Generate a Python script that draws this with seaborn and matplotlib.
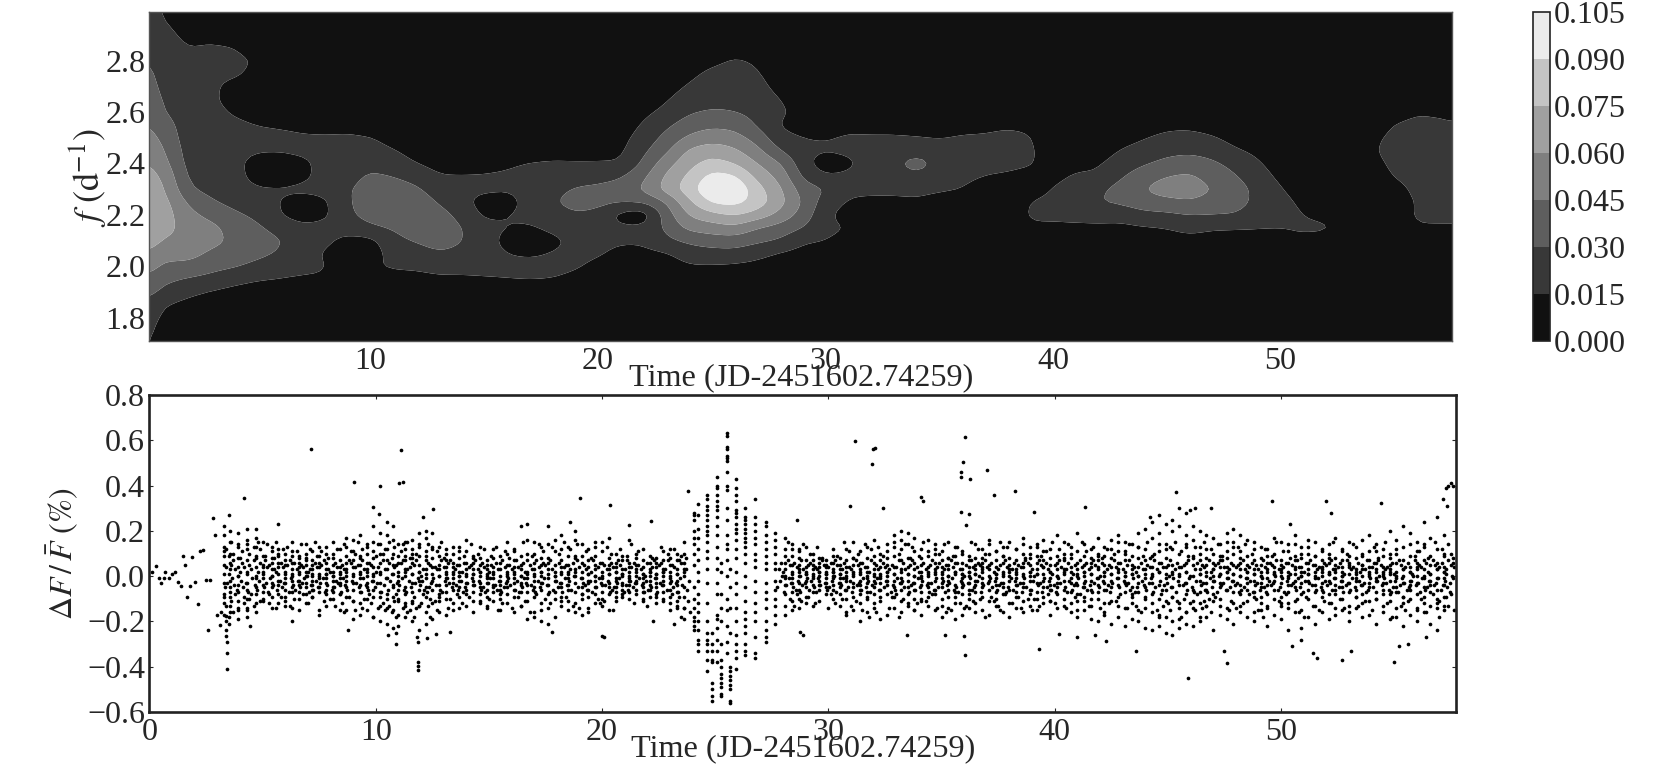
"""
Lomb-Scargle map and light curve, JD-2451602.74259
Values estimated by eye from the picture; the dense band is a thinned read-off.
"""
import numpy as np
import pandas as pd
import matplotlib
matplotlib.use('Agg')
import matplotlib.pyplot as plt
import seaborn as sns

# ----- power map: one list per time, f from 3.00 down to 1.70 in steps of 0.05
# unit of the lists is 0.0015 (contour levels fall on multiples of 10)
map_f = [3.00, 2.95, 2.90, 2.85, 2.80, 2.75, 2.70, 2.65, 2.60, 2.55, 2.50, 2.45, 2.40, 2.35,
         2.30, 2.25, 2.20, 2.15, 2.10, 2.05, 2.00, 1.95, 1.90, 1.85, 1.80, 1.75, 1.70]
map_t = [0.27, 1, 2, 3, 4, 5, 6, 7, 8, 9, 10, 11, 12, 13, 14, 15, 16, 17, 18, 19, 20, 21, 22, 23, 24, 25,
         26, 27, 28, 29, 30, 31, 32, 33, 34, 35, 36, 37, 38, 39, 40, 41, 42, 43, 44, 45, 46, 47, 48, 49,
         50, 51, 52, 53, 54, 55, 56, 57, 57.6]
map_power = [
    [14,15,16,18,20,22,24,26,28, 30,33,36,40,44,47,48,48,47, 44,39,33,28,22,18,14,12,11],
    [8,10,12,13,14,15,16,18,20, 24,27,30,33,37,40,43,44,43, 39,33,28,22,17,10,7,5,3],
    [3,6,8,10,11,12,12,13,13, 14,14,15,16,18,21,28,33,36, 37,34,27,19,12,7,4,2,1],
    [3,5,8,11,12,12,12,12,13, 13,13,14,14,15,17,21,27,33, 33,28,23,17,9,6,3,2,1],
    [2,3,5,10.5,13,12,7,6,9, 12,13,13,13,14,15,17,22,26, 28,26,21,13,7,4,2,1,1],
    [1,1,1,4,9,7,5,5,6, 10,12,11,6,6,11,13,18,22, 25,23,17,10.5,6,3,2,1,1],
    [1,1,1,1,2,2,3,4,5, 9,12,11,5,5,11,10,10,16, 21,19,13,10,5,3,2,1,1],
    [1,1,1,1,1,2,2,3,5, 8,11,12,8,8,12,6,6,12, 14,14,12,9,5,3,2,1,1],
    [1,1,1,1,1,1,2,3,4, 7,11,12,13,13,13,8,8,13, 12,9,10.5,9,5,3,2,1,1],
    [1,1,1,1,1,1,2,3,5, 8,11,13,15,16,19,19,18,14, 7,5,6,4,3,2,1,1,1],
    [1,1,1,1,1,1,2,2,4, 6,10.5,13,17,22,25,26,24,18, 7,5,9,6,3,2,1,1,1],
    [1,1,1,1,1,1,1,2,3, 5,7,10.5,14,20,25,28,28,21, 17,14,11,7,3,2,1,1,1],
    [1,1,1,1,1,1,1,1,2, 4,5,7,10,16,22,27,28,26, 21,15,11,8,4,2,1,1,1],
    [1,1,1,1,1,1,1,1,1, 3,4,5,7,10.5,14,19,24,26, 25,19,12,9,4,2,1,1,1],
    [1,1,1,1,1,1,1,1,1, 2,4,5,7,10.5,12,13,17,20.5, 20.5,17,12,9,4,2,1,1,1],
    [1,1,1,1,1,1,1,1,1, 3,4,6,8,10.5,12,6,8,13, 14,14,12,9.5,4,2,1,1,1],
    [1,1,1,1,1,1,1,1,1, 3,4,6,9,11,11,6,10,10, 7,10,12,10,5,2,1,1,1],
    [1,1,1,1,1,1,1,1,2, 3,4,6,10.5,12,13,14,12,9, 5,9,12,10.5,5,2,1,1,1],
    [1,1,1,1,1,1,1,1,2, 3,5,7,11,13,17,19,15,12, 8,10.5,12,10,5,2,1,1,1],
    [1,1,1,1,1,1,1,1,2, 3,5,7,10.5,16,21,24,19,14, 12,12,11,8,4,2,1,1,1],
    [1,1,1,1,1,1,1,1,2, 3,5,7,10.5,17,22,23,17,13, 12,11,8,5,3,1,1,1,1],
    [1,1,1,1,1,1,1,1,2, 5,7,8,10.5,19,24,21,6,12, 11,8,5,3,2,1,1,1,1],
    [1,1,1,1,1,2,4,6,8, 11,14,18,22,28,32,21,3,12, 11,8,5,3,2,1,1,1,1],
    [1,1,1,2,3,4,6,9,12, 18,23,28,36,42,44,30,25,22, 18,9,5,3,2,1,1,1,1],
    [1,1,2,3,5,8,11,15,19, 25,32,42,47,52,56,48,41,33, 22,15,9,5,3,2,1,1,1],
    [1,2,3,4,8,12,14,17,21, 28,36,46,54,64,70,62,47,35, 25,16,9,5,3,2,1,1,1],
    [1,2,4,7,11,13,15,17,20, 27,34,42,50,62,70,64,51,38, 25,17,8,5,3,2,1,1,1],
    [1,2,4,6,9,11,13,15,17, 19,26,33,40,47,54,56,46,30, 22,13,7,4,2,1,1,1,1],
    [1,1,2,3,4,5,7,10,12, 9,13,20,31,37,42,44,37,26, 19,9,5,3,2,1,1,1,1],
    [1,1,1,1,2,3,4,5,6, 6,10,12,14,18,25,29,26,20, 11,7,4,2,1,1,1,1,1],
    [1,1,1,1,1,2,3,4,5, 6,9.5,11,4,11,20.5,15,12,12, 10,6,3,2,1,1,1,1,1],
    [1,1,1,1,1,2,3,4,5, 8,11,12,8,12,12,9,6,10, 7,4,2,1,1,1,1,1,1],
    [1,1,1,1,1,1,2,3,4, 7,11,13,14,14,12,8,5,3, 2,1,1,1,1,1,1,1,1],
    [1,1,1,1,1,1,2,3,4, 7,11,14,17,15,12,8,5,3, 2,1,1,1,1,1,1,1,1],
    [1,1,1,1,1,1,2,3,4, 6,10.5,15,26,17,12,9,5,3, 2,1,1,1,1,1,1,1,1],
    [1,1,1,1,1,1,2,3,4, 6,9.5,14,16,14,11,7,4,2, 1,1,1,1,1,1,1,1,1],
    [1,1,1,1,1,1,2,3,4, 7,11,13,14,12,10,6,3,2, 1,1,1,1,1,1,1,1,1],
    [1,1,1,1,1,1,2,3,5, 8,11,13,12,10,6,4,2,1, 1,1,1,1,1,1,1,1,1],
    [1,1,1,1,1,1,2,3,5, 9,12,13,12,9,5,3,2,1, 1,1,1,1,1,1,1,1,1],
    [1,1,1,1,1,1,2,3,5, 8,11,12,11,7,6,10.5,12,8, 5,3,2,1,1,1,1,1,1],
    [1,1,1,1,1,1,1,1,1, 2,3,4,6,8,10.5,12,12,8, 5,3,2,1,1,1,1,1,1],
    [1,1,1,1,1,1,1,1,1, 2,3,5,8,11,13,14,13,8, 5,3,2,1,1,1,1,1,1],
    [1,1,1,1,1,1,1,1,1, 2,4,6,9,11,18,20,13,8.5, 5,3,2,1,1,1,1,1,1],
    [1,1,1,1,1,1,2,3,4, 5,7,10.5,14,19,24,22,13,8, 5,3,2,1,1,1,1,1,1],
    [1,1,1,1,1,1,2,3,4, 6,9.5,13,19,26,30,26,17,9, 5,3,2,1,1,1,1,1,1],
    [1,1,1,1,1,1,2,3,5, 8,12,17,23,30,35,27,18,10, 6,3,2,1,1,1,1,1,1],
    [1,1,1,1,1,1,2,3,5, 8,13,18,25,32,36,29,20,13, 7,4,2,1,1,1,1,1,1],
    [1,1,1,1,1,1,2,3,4, 6,11,16,22,26,30,26,20,11, 6,3,2,1,1,1,1,1,1],
    [1,1,1,1,1,1,2,3,3, 4,7,11,17,21,25,25,19.5,10.5, 6,3,2,1,1,1,1,1,1],
    [1,1,1,1,1,1,1,2,2, 3,5,8,11,14,17,17,14,10.5, 6,3,2,1,1,1,1,1,1],
    [1,1,1,1,1,1,1,1,1, 1,2,4,6,8,10.5,13,14,10, 6,3,2,1,1,1,1,1,1],
    [1,1,1,1,1,1,1,1,1, 1,1,2,4,5,6,8,10,12, 7,3,2,1,1,1,1,1,1],
    [1,1,1,1,1,1,1,1,1, 1,1,1,2,3,4,5,7,12, 5,3,2,1,1,1,1,1,1],
    [1,1,1,1,1,1,1,1,1, 1,1,1,2,3,3,4,5,5, 3,2,1,1,1,1,1,1,1],
    [1,1,1,1,1,1,1,2,3, 5,8,9,7,5,4,4,4,4, 3,2,1,1,1,1,1,1,1],
    [1,1,1,1,1,1,2,4,6, 10.5,12,13,12,10.5,7,5,6,5, 3,2,1,1,1,1,1,1,1],
    [1,1,1,1,1,2,3,5,9.5, 12,14,15,14,13,12,11,11,9.5, 5,3,2,1,1,1,1,1,1],
    [1,1,1,1,1,2,3,5,9, 11,14,15,15,14,13,12,12,9, 5,3,2,1,1,1,1,1,1],
    [1,1,1,1,1,2,3,5,8.5, 10.5,14,15,15,14,13,12,12,9, 5,3,2,1,1,1,1,1,1],
]
map_levels = [0.0, 0.015, 0.03, 0.045, 0.06, 0.075, 0.09, 0.105]
map_colors = ['#111111', '#383838', '#5e5e5e', '#7f7f7f', '#a0a0a0', '#c4c4c4', '#ebebeb']
map_xticks = [10, 20, 30, 40, 50]
map_yticks = [1.8, 2.0, 2.2, 2.4, 2.6, 2.8]

# ----- light curve: isolated points, read one by one
early_t = [0.13, 0.28, 0.44, 0.52, 0.65, 0.71, 0.87, 0.99, 1.15, 1.26, 1.39, 1.5, 1.59, 1.67, 1.81, 1.9, 2.02,
           2.13, 2.25, 2.36, 2.49, 2.57, 2.68, 2.8, 2.91, 2.98, 3.12, 3.15]
early_flux = [0.02, 0.045, -0.01, -0.03, -0.01, 0.02, -0.01, 0.01, 0.02, -0.025, -0.045, 0.09, 0.05, -0.09,
              -0.045, 0.085, -0.025, -0.125, 0.11, 0.115, -0.015, -0.24, -0.015, 0.255, 0.18, -0.17, -0.215, -0.16]
single_t = [3.28, 3.39, 3.39, 3.51, 3.51, 3.4, 3.4, 3.43, 3.45, 3.45, 4.19, 4.46, 5.69, 6.31, 7.12, 9.06, 10.2,
            11.12, 11.04, 11.2, 9.86, 10.13, 8.79, 10.88, 10.54, 10.88, 11.86, 11.86, 11.86, 11.86, 11.83, 12.1,
            12.52, 12.25, 12.68, 13.3, 17.8, 19.02, 20.33, 20.08, 20.0, 22.26, 23.2, 23.8, 22.15, 21.2, 18.58,
            28.73, 28.9, 28.6, 31.16, 31.96, 32.04, 31.93, 30.95, 32.4, 34.1, 34.18, 36.02, 35.96, 35.88, 35.86,
            36.27, 37.03, 37.3, 38.25, 39.1, 35.88, 36.23, 36.1, 36.05, 35.98, 39.3, 41.36, 40.17, 41.0, 41.8,
            42.27, 35.14, 33.48, 43.6, 45.35, 46.0, 46.2, 45.9, 44.2, 46.9, 47.5, 47.6, 49.6, 50.4, 50.5, 50.9,
            51.4, 51.6, 52.0, 52.2, 52.7, 53.1, 54.4, 55.0, 55.2, 55.6, 56.4, 57.15, 57.3, 57.35, 57.4, 57.5, 57.6]
single_flux = [0.22, -0.175, -0.2, -0.21, 0.27, -0.24, -0.265, -0.29, -0.34, -0.41, 0.345, -0.22, 0.23, -0.2,
               0.56, 0.415, 0.4, 0.555, 0.41, 0.415, 0.305, 0.275, -0.24, -0.3, -0.26, -0.25, -0.38, -0.395, -0.415,
               -0.29, -0.27, 0.26, 0.295, -0.275, -0.255, -0.245, -0.245, 0.345, 0.315, -0.27, -0.265, -0.2, -0.21,
               0.375, 0.245, 0.225, 0.24, -0.245, -0.26, 0.25, 0.595, 0.56, 0.565, 0.495, 0.31, 0.3, 0.35, 0.33,
               0.615, 0.505, 0.46, 0.44, 0.43, 0.47, 0.36, 0.375, 0.285, 0.285, 0.275, 0.225, -0.35, -0.265, -0.32,
               0.305, -0.255, -0.27, -0.26, -0.285, -0.26, -0.26, -0.33, 0.37, 0.29, 0.3, -0.45, 0.26, 0.3, -0.33,
               -0.385, 0.33, 0.23, -0.31, -0.28, -0.34, -0.36, 0.33, 0.28, -0.37, -0.33, 0.325, -0.38, -0.31, -0.3,
               -0.27, 0.34, 0.39, 0.31, 0.4, 0.41, 0.4]

# ----- flare around t = 24-28, flux in units of 0.01 %
flare_t = [24.07, 24.25, 24.63, 24.85, 25.07, 25.25, 25.5, 25.65, 25.9, 26.33, 26.76, 27.23, 27.66]
flare_flux = [
    [28,25,20,27,17,14,10,5,-5,-10,-14,-18,-20,-22,-24],
    [32,27,21,17,12,7,2,-2,-8,-12,-16,-20,-24,-28,-30,-33],
    [36,34,31,29,27,25,22,20,18,15,11,8,3,-3,-12,-20,-25,-28,-30,-33,-37,-42],
    [-25,-30,-33,-37,-38,-47,-50,-53,-55],
    [44,40,39,36,33,31,29,26,22,18,13,8,3,-3,-8,-17,-19,-23,-28,-33,-38],
    [-40,-43,-45,-47,-49,-52,-53,-37,-30,-20,-14,-8,2,6],
    [63,62,57,56,53,52,51,46,40,38,30,25,18,14,12,7,0,-10,-15,-22,-29,-34],
    [-40,-42,-44,-46,-48,-50,-55,-56,-25,-14,-5,3],
    [43,39,36,33,29,28,26,23,21,19,16,12,8,2,-3,-8,-14,-20,-26,-30,-33,-36,-41],
    [30,26,25,23,21,19,17,15,13,10,6,0,-5,-11,-16,-19,-22,-25,-30,-33,-35],
    [34,26,23,20,17,14,10,7,4,-2,-7,-12,-16,-20,-27,-34,-36],
    [24,22,18,15,12,9,6,3,-3,-7,-10,-14,-20,-24,-27,-29],
    [19,16,13,10,6,3,-2,-6,-10,-13,-17,-21],
]

# ----- dense band, stripes, flux in units of 0.01 %
band_t = [3.3, 3.55, 3.9, 4.3, 4.7, 5.0, 5.4, 5.7, 6.0, 6.3, 6.6, 6.9, 7.2, 7.5, 7.8, 8.1, 8.4, 8.7, 9.0, 9.3,
          9.6, 9.9, 10.2, 10.5, 10.75, 11.0, 11.3, 11.6, 11.9, 12.2, 12.5, 12.8, 13.1, 13.4, 13.7, 14.0, 14.3,
          14.6, 14.9, 15.2, 15.5, 15.8, 16.1, 16.4, 16.7, 17.0, 17.3, 17.6, 17.9, 18.2, 18.5, 18.8, 19.1, 19.4,
          19.7, 20.0, 20.3, 20.6, 20.9, 21.2, 21.5, 21.8, 22.1, 22.4, 22.7, 23.0, 23.3, 23.6, 28.1, 28.4, 28.7,
          29.0, 29.3, 29.6, 29.9, 30.2, 30.5, 30.8, 31.1, 31.4, 31.7, 32.0, 32.3, 32.6, 32.9, 33.2, 33.5, 33.8,
          34.1, 34.4, 34.7, 35.0, 35.3, 35.6, 35.9, 36.2, 36.5, 36.8, 37.1, 37.4, 37.7, 38.0, 38.3, 38.6, 38.9,
          39.2, 39.5, 39.8, 40.1, 40.4, 40.7, 41.0, 41.3, 41.6, 41.9, 42.2, 42.5, 42.8, 43.1, 43.4, 43.7, 44.0,
          44.3, 44.6, 44.9, 45.2, 45.5, 45.8, 46.1, 46.4, 46.7, 47.0, 47.3, 47.6, 47.9, 48.2, 48.5, 48.8, 49.1,
          49.4, 49.7, 50.0, 50.3, 50.6, 50.9, 51.2, 51.5, 51.8, 52.1, 52.4, 52.7, 53.0, 53.3, 53.6, 53.9, 54.2,
          54.5, 54.8, 55.1, 55.4, 55.7, 56.0, 56.3, 56.6, 56.9, 57.2, 57.5, 57.7]
band_flux = [
    [18,13,9,5,1,-3,-8,-12,-17,11], [20,15,10,6,-2,-5,-9,-13,-16,3], [19,14,8,4,0,-4,-7,-11,-15,-19],
    [21,16,12,7,2,-3,-6,-10,-14,-18], [21,17,13,9,4,-1,-5,-8,-12,-16], [15,9,5,2,-1,-4,-7,-11,4],
    [13,8,6,3,0,-3,-5,-9,-14], [12,9,4,1,-2,-4,-8,-12,6], [10,7,5,2,-1,-3,-6,-9,-13],
    [15,11,6,3,1,-2,-5,-7,-14], [9,6,4,1,-2,-4,-7,-10,-15], [14,8,5,2,0,-3,-5,-8,-12],
    [7,5,3,0,-2,-4,-6,-9,11], [13,9,6,4,1,-1,-5,-7,-17], [10,6,3,1,-1,-3,-6,-8,-13],
    [15,8,5,2,0,-2,-5,-7,-10], [12,7,4,2,-1,-3,-4,-8,-15], [17,13,6,3,0,-2,-5,-9,-15],
    [16,11,7,4,1,-3,-6,-11,-19], [18,9,5,2,-1,-4,-7,-12,-17], [14,10,6,3,0,-3,-5,-10,-15],
    [22,15,8,4,1,-2,-6,-9,-18], [19,14,10,6,2,-3,-7,-13,-20], [24,18,12,7,3,-1,-8,-14,-21],
    [22,16,10,5,1,-4,-9,-15,-23], [14,9,6,2,-2,-6,-11,-17,-22], [15,12,7,3,0,-5,-8,-13,-18],
    [16,10,6,8,1,-3,-7,-12,-20], [19,14,9,5,2,-2,-6,-13,-24], [20,17,11,7,3,-1,-5,-9,-21],
    [19,13,8,4,1,-2,-6,-12,-19], [13,9,5,3,0,-4,-8,-11,-16], [12,7,4,1,-1,-4,-7,-10,-17],
    [10,6,4,2,-1,-3,-6,-12,-15], [13,8,5,2,0,-2,-5,-9,-14], [16,11,6,3,1,-3,-6,-8,-13],
    [9,6,3,1,-2,-4,-7,-11,-16], [13,8,5,2,0,-3,-5,-8,-12], [7,5,3,1,-1,-3,-6,-9,-14],
    [12,8,4,2,-1,-4,-5,-7,-11], [9,6,3,0,-2,-4,-6,-10,-15], [15,10,5,2,1,-2,-5,-8,-12],
    [11,7,4,2,-1,-3,-6,-9,-16], [22,9,5,3,0,-3,-4,-7,-13], [23,16,7,2,-1,-4,-7,-11,-19],
    [15,10,6,3,1,-2,-5,-9,-16], [13,8,5,2,0,-3,-6,-12,-20], [22,14,6,3,-1,-4,-8,-14,-21],
    [16,11,5,2,0,-2,-7,-10,-18], [18,12,7,4,1,-3,-5,-9,-13], [13,9,5,2,-1,-4,-6,-11,-15],
    [20,16,8,3,0,-3,-7,-12,-16], [14,9,6,2,-1,-5,-8,-10,-17], [12,7,4,1,-2,-3,-6,-9,-14],
    [13,9,5,3,0,-2,-5,-8,-12], [15,11,6,2,-1,-4,-7,-10,-13], [17,8,5,3,1,-3,-5,-8,-15],
    [10,6,4,2,-1,-2,-5,-7,-11], [9,7,3,1,0,-3,-4,-6,-9], [16,6,4,2,-1,-2,-4,-7,-10],
    [10,8,5,3,0,-2,-3,-6,-8], [12,7,4,1,-1,-3,-5,-7,-11], [9,6,3,2,0,-2,-4,-6,-9],
    [8,6,4,1,-1,-3,-5,-8,-12], [11,7,3,2,0,-2,-4,-7,-10], [12,8,5,2,-1,-3,-6,-9,-12],
    [10,7,3,1,-2,-4,-7,-11,-14], [15,10,6,3,0,-5,-9,-14,-19], [17,12,6,3,-1,-4,-8,-13,-17],
    [14,9,5,2,-1,-3,-7,-11,-15], [12,8,5,3,0,-3,-6,-10,-14], [13,7,4,2,1,-2,-5,-9,-12],
    [10,7,5,3,1,-1,-4,-7,-13], [8,6,4,2,0,-2,-4,-6,-11], [7,5,4,2,1,-1,-3,-5,-8],
    [9,6,3,2,0,-1,-4,-6,-10], [8,5,3,1,-1,-3,-5,-8,-13], [12,7,4,2,-1,-2,-6,-10,-17],
    [15,8,5,2,0,-3,-5,-9,-15], [11,6,3,1,-2,-4,-6,-12,-20], [13,8,4,2,-1,-3,-7,-10,-16],
    [16,9,6,3,0,-2,-5,-8,-14], [10,7,4,1,-1,-3,-6,-9,-19], [14,8,5,2,0,-2,-4,-8,-17],
    [18,13,9,4,1,-2,-5,-9,-14], [20,16,7,3,-1,-3,-6,-11,-16], [19,14,8,4,1,-2,-5,-8,-12],
    [17,11,6,3,0,-3,-6,-10,-15], [12,8,5,2,-1,-4,-7,-11,-17], [16,9,4,2,0,-3,-5,-9,-13],
    [14,10,6,3,1,-2,-6,-8,-15], [11,7,4,2,-1,-3,-5,-10,-18], [15,8,5,3,0,-2,-6,-9,-14],
    [13,9,6,2,1,-4,-7,-12,-19], [10,6,3,1,-1,-3,-5,-8,-17], [9,7,4,2,0,-3,-6,-10,-14],
    [14,8,5,3,1,-2,-4,-7,-12], [12,6,4,2,-1,-3,-5,-9,-15], [16,10,5,3,0,-2,-6,-11,-17],
    [11,7,4,1,-1,-4,-7,-10,-13], [13,9,6,2,1,-3,-5,-8,-16], [15,8,5,3,0,-2,-6,-12,-18],
    [12,7,3,2,-1,-4,-7,-9,-14], [17,10,6,4,1,-3,-5,-11,-16], [13,8,5,2,0,-2,-6,-8,-13],
    [14,9,6,3,1,-3,-7,-10,-15], [16,11,7,4,1,-2,-5,-9,-12], [12,8,5,2,-1,-4,-6,-11,-17],
    [18,9,6,3,0,-3,-5,-8,-14], [15,10,7,3,1,-2,-6,-10,-13], [13,8,4,2,-1,-3,-7,-12,-16],
    [19,11,6,3,1,-4,-8,-11,-18], [14,9,5,2,0,-3,-5,-9,-15], [12,8,6,4,1,-2,-6,-13,-19],
    [17,10,7,3,-1,-4,-7,-10,-20], [13,9,5,2,0,-3,-6,-12,-17], [16,12,8,4,1,-2,-5,-11,-21],
    [18,11,6,3,-1,-4,-9,-13,-18], [15,10,7,2,0,-3,-7,-14,-22], [14,9,5,3,1,-5,-8,-12,-19],
    [19,13,8,4,0,-3,-7,-15,-20], [21,12,7,3,-1,-5,-9,-14,-23], [24,17,9,4,1,-3,-8,-16,-24],
    [27,19,11,6,2,-4,-10,-17,-22], [23,14,8,4,-1,-6,-11,-18,-25], [25,20,12,5,1,-5,-9,-20,-26],
    [30,22,10,4,0,-4,-12,-19,-23], [28,18,13,6,2,-3,-8,-16,-21], [22,16,9,5,0,-6,-11,-14,-22],
    [20,13,7,3,1,-2,-7,-12,-20], [18,12,8,5,2,-3,-6,-13,-18], [17,10,6,3,0,-2,-8,-11,-24],
    [14,9,7,4,1,-3,-5,-10,-17], [19,15,8,4,2,-1,-6,-14,-19], [21,13,10,5,1,-2,-7,-12,-21],
    [18,11,6,3,0,-4,-8,-13,-16], [16,9,5,2,-1,-3,-6,-11,-18], [15,12,7,3,1,-2,-7,-9,-20],
    [13,8,5,2,0,-3,-5,-12,-15], [12,9,6,3,-1,-4,-8,-14,-22], [17,10,4,2,1,-2,-6,-10,-17],
    [15,7,5,3,0,-3,-9,-13,-19], [14,11,6,2,-1,-4,-7,-12,-24], [18,9,7,4,1,-2,-5,-11,-16],
    [13,8,4,2,0,-3,-8,-15,-23], [16,10,6,3,1,-2,-6,-10,-18], [15,9,5,2,-1,-4,-7,-13,-21],
    [12,7,4,3,0,-3,-6,-9,-16], [14,10,6,2,1,-2,-8,-12,-19], [17,8,5,3,-1,-4,-6,-14,-17],
    [11,7,4,2,0,-2,-5,-10,-15], [15,9,6,4,1,-3,-7,-13,-20], [13,8,3,2,-1,-2,-6,-9,-14],
    [16,10,5,3,0,-4,-8,-12,-18], [18,7,4,2,1,-3,-5,-11,-17], [14,11,6,3,-1,-2,-7,-10,-21],
    [12,9,4,2,0,-3,-6,-13,-16], [20,8,5,3,1,-2,-8,-11,-19], [16,10,6,2,-1,-5,-7,-14,-18],
    [22,13,7,3,0,-3,-9,-12,-22], [19,9,4,2,-2,-4,-6,-10,-17], [15,11,6,4,0,-3,-8,-15,-20],
    [24,14,7,3,-1,-5,-9,-12,-16], [17,9,5,1,-2,-4,-7,-13,-21], [26,12,6,3,-1,-6,-10,-14,-24],
    [18,10,4,2,-1,-4,-9,-13,-15],
]

# ----- same band by flux level: times of the points met along each level
cloud_flux = [7, 6, 5, 4, 3, 2, 1, 0, -1, -2, -3, -4, -5, -6, -7]
cloud_t = [
    [3.7,4.6,5.1,6.2,6.9,7.7,8.8,9.4,10.3,11.2,11.8,12.9,13.3,14.4,15.6,16.2,17.1,17.7,18.9,19.6,20.7,21.1,22.3,22.9,23.4,
     28.2,28.8,29.7,30.3,31.2,31.9,33.1,33.7,34.6,35.4,36.3,36.9,37.8,38.7,39.3,40.2,41.1,41.7,42.6,43.3,44.4,45.1,45.9,
     46.8,47.4,48.3,49.2,49.8,50.7,51.3,52.2,52.9,53.8,54.3,55.2,55.9,56.7,57.4],
    [4.1,4.9,5.8,6.4,7.3,8.2,8.9,9.7,10.6,11.1,12.3,13.2,13.9,14.7,15.3,16.5,17.4,18.1,18.7,19.9,20.4,21.4,22.0,22.6,23.5,
     27.9,28.5,29.2,30.1,30.7,31.5,32.4,33.3,34.2,34.9,35.7,36.6,37.2,38.2,38.8,39.6,40.6,41.4,42.1,42.9,43.8,44.7,45.4,
     46.3,47.2,47.8,48.7,49.5,50.2,51.1,51.9,52.6,53.4,54.1,54.9,55.6,56.4,57.1,57.6],
    [3.6,4.4,5.3,6.1,6.7,7.6,8.5,9.2,9.8,10.9,11.7,12.4,13.6,14.2,15.1,15.9,16.8,17.5,18.4,19.2,20.1,20.8,21.6,22.5,23.1,
     28.3,29.1,29.8,30.4,31.3,32.1,32.8,33.6,34.5,35.2,36.1,36.7,37.6,38.4,39.4,40.0,40.9,41.8,42.4,43.2,44.1,45.0,45.7,
     46.5,47.1,48.1,48.9,49.6,50.5,51.4,52.0,53.0,53.6,54.4,55.3,56.1,56.8,57.5],
    [3.4,4.2,5.2,5.9,6.8,7.4,8.3,9.1,10.1,10.8,11.5,12.6,13.0,14.1,14.8,15.7,16.3,17.2,18.3,19.0,19.8,20.5,21.3,22.2,23.2,
     28.6,29.4,30.0,30.9,31.6,32.5,33.0,33.9,34.8,35.5,36.4,37.0,37.9,38.5,39.5,40.3,41.2,41.9,42.7,43.5,44.2,44.8,45.6,
     46.6,47.5,48.0,48.6,49.3,50.1,50.8,51.7,52.5,53.2,54.0,54.7,55.5,56.2,57.0,57.65],
    [3.8,4.5,5.5,6.5,7.1,7.9,8.6,9.5,10.4,11.4,12.1,12.7,13.5,14.5,15.4,16.0,16.9,17.8,18.6,19.3,20.2,21.0,21.7,22.8,23.7,
     27.8,28.9,29.5,30.6,31.0,32.2,32.7,33.4,34.3,35.1,35.8,36.8,37.5,38.1,39.0,39.7,40.5,41.5,42.3,43.0,43.9,44.5,45.3,
     46.2,47.0,47.7,48.4,49.0,49.9,50.6,51.6,52.3,53.1,53.7,54.6,55.4,56.0,56.9,57.3],
    [4.0,4.8,5.6,6.6,7.0,8.0,8.7,9.6,10.0,11.3,11.9,13.1,13.8,14.6,15.0,16.6,17.3,18.2,18.8,19.5,20.6,21.5,22.1,22.7,23.6,
     28.0,28.7,29.6,30.2,31.4,31.8,32.6,33.2,34.0,34.7,35.6,36.2,37.3,38.0,38.9,39.8,40.4,41.3,42.2,42.8,43.6,44.6,45.2,
     45.8,46.9,47.6,48.5,49.4,50.0,51.0,51.8,52.4,53.5,54.2,54.8,55.7,56.5,57.2],
    [3.5,4.3,5.0,6.0,7.2,7.8,8.4,9.3,10.2,10.7,11.6,12.2,13.4,14.3,15.2,16.1,16.7,17.6,18.5,19.4,20.3,20.9,21.8,22.4,23.3,
     28.4,29.0,29.9,30.5,31.1,32.0,32.9,33.5,34.4,35.0,35.9,36.5,37.4,38.3,39.2,39.9,40.8,41.6,42.5,43.4,44.0,44.9,45.5,
     46.4,47.3,47.9,48.8,49.7,50.4,51.2,52.1,52.8,53.3,54.5,55.0,55.8,56.6,57.3],
    [3.9,4.7,5.4,6.3,6.95,7.5,8.1,9.0,9.9,11.0,12.0,12.8,13.7,14.0,14.9,15.8,16.4,17.0,17.9,18.75,19.7,20.0,21.2,21.9,23.0,
     27.95,28.1,28.75,29.3,30.25,30.8,31.7,32.3,33.8,34.1,35.3,36.0,36.65,37.7,38.6,39.1,40.1,41.0,42.0,43.1,43.7,44.3,45.05,
     46.0,46.7,47.25,48.2,49.1,49.75,50.3,50.9,51.5,52.7,53.9,54.35,55.1,55.85,56.3,57.55],
    [3.65,4.55,5.35,6.25,6.85,7.65,8.55,9.45,10.45,11.15,11.85,12.55,13.15,14.25,15.05,15.85,16.55,17.45,18.35,19.05,19.85,
     20.75,21.65,22.35,23.45,28.25,29.05,29.55,30.65,31.55,32.15,33.05,33.95,34.75,35.45,36.25,37.15,38.05,38.65,39.55,40.15,
     41.05,41.85,42.75,43.45,44.25,45.25,45.95,46.85,47.65,48.45,49.15,50.05,50.75,51.65,52.35,53.15,53.95,54.55,55.35,56.25,
     56.95,57.6],
    [4.05,4.85,5.75,6.55,7.35,8.25,8.95,9.85,10.65,11.45,12.05,13.05,13.75,14.55,15.45,16.25,17.15,17.95,18.55,19.45,20.25,
     21.25,21.95,23.05,23.85,27.85,28.65,29.25,30.15,30.95,31.75,32.55,33.25,34.15,35.05,35.85,36.55,37.35,38.25,39.05,39.75,
     40.65,41.35,42.15,43.05,43.85,44.65,45.45,46.25,47.05,47.85,48.65,49.45,50.25,51.05,51.95,52.65,53.45,54.25,55.05,55.75,
     56.55,57.25],
    [3.45,4.25,5.15,5.95,6.75,7.55,8.35,9.15,10.05,10.95,11.75,12.45,13.25,14.05,14.95,15.75,16.65,17.35,18.15,19.15,19.95,
     20.65,21.45,22.55,23.25,28.35,28.95,29.85,30.45,31.35,32.05,33.15,33.75,34.55,35.35,36.15,37.05,37.65,38.45,39.35,40.25,
     40.95,41.75,42.55,43.25,44.15,44.95,45.75,46.55,47.45,48.05,48.95,49.65,50.55,51.25,52.15,52.95,53.65,54.65,55.45,56.05,
     56.85,57.45],
    [3.75,4.65,5.45,6.35,7.15,7.85,8.65,9.55,10.35,11.05,11.95,12.65,13.55,14.35,15.25,15.95,16.85,17.55,18.45,19.25,20.15,
     21.05,21.75,22.65,23.55,28.15,28.85,29.65,30.55,31.25,31.95,32.85,33.65,34.35,35.25,35.95,36.85,37.55,38.35,39.25,39.95,
     40.85,41.55,42.35,43.15,43.95,44.85,45.65,46.45,47.35,47.95,48.85,49.55,50.45,51.35,52.05,52.85,53.55,54.45,55.25,55.95,
     56.75,57.15],
    [3.35,4.15,5.05,5.85,6.65,7.45,8.15,9.25,9.95,10.75,11.55,12.35,13.35,13.95,14.75,15.65,16.45,17.25,18.05,18.95,19.75,
     20.55,21.35,22.15,23.15,27.75,28.45,29.35,30.05,30.85,31.65,32.45,33.35,34.05,34.85,35.65,36.45,37.25,37.95,38.75,39.65,
     40.45,41.25,41.95,42.85,43.65,44.45,45.15,46.05,46.95,47.75,48.35,49.25,49.95,50.85,51.75,52.55,53.25,54.05,54.95,55.65,
     56.45,57.35],
    [3.85,4.75,5.65,6.45,7.25,8.05,8.75,9.65,10.55,11.25,12.15,12.85,13.65,14.65,15.35,16.15,16.95,17.85,18.65,19.35,20.45,
     21.15,22.05,22.85,23.75,28.55,29.15,29.95,30.75,31.45,32.25,32.95,33.85,34.65,35.55,36.35,37.45,38.15,38.95,39.85,40.75,
     41.45,42.25,43.35,44.05,44.75,45.85,46.65,47.55,48.25,49.05,49.85,50.65,51.55,52.25,53.05,53.85,54.75,55.55,56.35,57.05],
    [3.55,4.35,5.25,6.15,7.05,7.75,8.45,9.35,10.25,11.35,12.25,12.95,13.85,14.85,15.55,16.35,17.05,17.65,18.25,19.55,20.35,
     20.95,21.85,22.45,23.35,28.05,28.75,29.45,30.35,31.05,31.85,32.75,33.55,34.45,35.15,35.75,36.75,37.85,38.55,39.45,40.05,
     40.55,41.65,42.45,43.55,44.35,45.35,46.15,46.75,47.15,48.15,48.75,49.35,50.15,50.95,51.85,52.75,53.75,54.85,55.15,56.15,
     57.45],
]
cloud_edge_flux = [15, 14, 13, 12, 11, 10, 9, 8, -8, -9, -10, -11, -12, -13, -14, -15, -16, -18]
cloud_edge_t = [
    [3.6,4.8,5.6,7.3,9.2,10.6,11.4,12.9,16.5,18.3,19.7,28.2,30.7,32.9,34.2,36.3,37.6,39.9,41.2,42.8,44.1,45.3,46.6,47.9,49.8,52.3,54.6,56.8],
    [4.3,5.2,6.7,8.6,10.1,11.2,12.3,14.2,17.2,18.9,21.3,28.9,31.6,33.4,35.1,37.1,38.6,40.6,43.3,44.6,45.8,47.2,48.4,50.6,53.2,55.7,57.4],
    [3.9,4.6,6.1,7.8,9.6,10.8,11.9,13.4,15.3,17.8,20.2,22.6,29.5,32.2,33.7,35.7,37.9,39.2,41.7,43.7,45.1,46.2,48.1,51.2,54.1,56.3],
    [3.4,4.9,5.9,7.1,8.3,9.4,10.4,11.6,12.5,14.8,16.1,18.6,20.8,23.2,28.4,30.2,31.9,33.2,34.7,36.6,38.3,40.2,42.3,44.9,46.9,49.3,52.7,55.1,57.1],
    [4.1,5.4,6.5,7.6,8.9,9.9,11.1,12.7,13.7,15.7,17.4,19.3,21.6,28.7,30.9,32.6,34.4,35.9,37.4,39.6,41.4,43.1,45.6,47.6,50.1,51.8,53.9,56.1],
    [3.7,4.4,5.7,6.9,8.1,9.1,10.3,11.8,13.1,14.5,16.7,18.1,20.4,22.9,29.2,31.3,33.1,34.9,36.9,38.9,40.7,42.6,44.4,46.4,48.7,50.9,52.9,54.8,57.5],
    [3.5,5.1,6.3,7.4,8.7,10.0,11.3,12.2,13.9,15.1,16.9,18.8,21.1,23.5,28.1,30.4,32.4,34.0,35.5,37.7,39.4,41.9,43.9,45.9,47.4,49.6,51.5,53.6,55.9,57.2],
    [4.0,4.7,5.5,6.6,7.9,9.3,10.7,11.5,13.0,14.3,15.9,17.6,19.5,22.2,23.7,29.7,31.1,33.6,35.3,36.8,38.7,40.4,42.1,44.2,46.1,48.2,50.4,52.1,54.3,56.5,57.6],
    [3.8,4.5,5.3,6.8,8.4,9.7,10.9,12.1,13.6,15.5,17.1,19.1,20.9,23.1,28.6,30.1,31.4,33.0,34.6,36.2,37.8,39.7,41.1,42.9,44.7,46.3,48.6,50.2,52.4,54.5,56.7,57.5],
    [3.3,4.2,5.8,7.2,8.8,10.2,11.7,12.8,14.1,16.3,18.4,20.6,22.4,23.4,29.1,31.7,32.8,35.6,37.2,38.4,40.9,43.4,45.2,47.1,49.1,51.1,53.3,55.4,57.3],
    [4.4,5.0,6.4,8.0,9.5,10.5,11.0,12.4,13.3,15.0,17.5,19.8,21.8,28.3,30.6,33.3,34.1,36.7,38.8,39.1,41.6,44.0,45.7,46.8,48.9,50.7,52.6,54.2,56.2],
    [3.6,4.9,6.0,7.7,9.0,10.8,11.6,12.6,14.6,16.6,18.2,20.1,22.7,23.8,28.8,31.2,32.3,34.3,36.4,37.3,39.8,41.3,42.7,45.4,46.6,47.8,49.9,51.9,53.7,55.6,57.0],
    [4.2,5.3,7.0,8.5,9.8,10.3,11.3,12.0,13.8,15.6,17.7,19.9,21.4,29.4,30.3,32.0,33.9,35.8,38.1,40.0,42.4,44.3,45.0,46.0,48.3,50.0,52.2,54.7,56.9],
    [3.4,4.6,6.2,8.2,10.6,11.9,12.3,14.9,16.4,18.7,22.0,23.3,28.5,31.0,33.5,35.0,36.1,37.5,39.3,41.5,43.6,44.8,46.7,47.3,49.4,51.4,53.4,55.3,57.4],
    [3.9,5.6,9.4,10.1,11.2,11.8,13.2,16.0,19.0,23.6,30.0,32.7,34.8,36.0,38.5,40.5,42.0,43.2,45.5,46.5,48.0,50.3,52.8,56.0],
    [4.3,7.5,9.1,10.4,11.5,12.7,15.4,17.3,20.5,23.0,31.5,33.8,35.4,37.6,39.0,41.0,44.5,45.1,46.2,47.7,49.0,51.7,54.0,55.5,57.65],
    [3.7,8.6,10.7,11.4,12.2,16.8,19.4,23.9,30.8,32.1,35.2,36.5,42.2,43.8,45.8,46.9,48.8,50.8,53.0,56.4],
    [3.5,9.9,10.9,11.7,12.4,17.0,23.5,31.8,33.1,36.9,44.6,45.6,46.4,49.2,51.0,54.9,57.0],
]

band_t_long = [t for t, col in zip(band_t, band_flux) for _ in col]
band_y_long = [v / 100 for col in band_flux for v in col]
flare_t_long = [t for t, col in zip(flare_t, flare_flux) for _ in col]
flare_y_long = [v / 100 for col in flare_flux for v in col]
cloud_t_long = [t for lig in cloud_t + cloud_edge_t for t in lig]
cloud_y_long = [v / 100 for v, lig in zip(cloud_flux + cloud_edge_flux, cloud_t + cloud_edge_t) for _ in lig]

curve = pd.DataFrame({
    't': early_t + single_t + flare_t_long + band_t_long + cloud_t_long,
    'flux': early_flux + single_flux + flare_y_long + band_y_long + cloud_y_long,
})


def lisser(grille, x, y, n=4):
    # finer grid and a light [1 2 1] pass so the contour edges come out round
    x_fin = np.interp(np.linspace(0, len(x) - 1, (len(x) - 1) * n + 1), np.arange(len(x)), x)
    y_fin = np.interp(np.linspace(0, len(y) - 1, (len(y) - 1) * n + 1), np.arange(len(y)), y)
    z = np.array([np.interp(y_fin, y, col) for col in grille.T]).T
    z = np.array([np.interp(x_fin, x, lig) for lig in z])
    for _ in range(3):
        for axe in (0, 1):
            p = np.pad(z, [(1, 1) if a == axe else (0, 0) for a in (0, 1)], mode='edge')
            if axe == 0:
                z = (p[:-2, :] + 2 * p[1:-1, :] + p[2:, :]) / 4
            else:
                z = (p[:, :-2] + 2 * p[:, 1:-1] + p[:, 2:]) / 4
    return x_fin, y_fin, z


sns.set_style('ticks')
plt.rcParams['font.family'] = ['Liberation Serif', 'DejaVu Serif']
plt.rcParams['mathtext.fontset'] = 'stix'
plt.rcParams['font.size'] = 23

W, H = 1661, 767
fig = plt.figure(figsize=(W / 100, H / 100), dpi=100, facecolor='white')
ax_map = fig.add_axes([149.4 / W, 1 - 341 / H, 1302.6 / W, 329.3 / H])
ax_lc = fig.add_axes([149.4 / W, 1 - 712 / H, 1307 / W, 317 / H])
cax = fig.add_axes([1533 / W, 1 - 341 / H, 17 / W, 329.3 / H])

# map
grille = np.array(map_power, dtype=float).T * 0.0015
ordre_f = np.array(map_f)[::-1]
xf, yf, zf = lisser(grille[::-1], np.array(map_t, dtype=float), ordre_f)
cf = ax_map.contourf(xf, yf, zf, levels=map_levels, colors=map_colors, extend='neither', antialiased=True)
ax_map.set_xlim(0.27, 57.55)
ax_map.set_ylim(1.71, 2.99)
ax_map.set_xticks(map_xticks)
ax_map.set_yticks(map_yticks)
ax_map.tick_params(direction='in', length=3, width=0.8, top=True, right=True, color='#444444',
                   labelsize=23, pad=4)
ax_map.tick_params(axis='y', pad=3)
for s in ax_map.spines.values():
    s.set_linewidth(1.0)
    s.set_color('#555555')
ax_map.set_xlabel('Time (JD-2451602.74259)', fontsize=23.2, va='center')
ax_map.xaxis.set_label_coords(0.5, -0.113)
ax_map.set_ylabel(r'$f\ (\mathrm{d}^{-1})$', fontsize=26, va='center')
ax_map.yaxis.set_label_coords(-0.048, 0.495)

# colorbar
cb = fig.colorbar(cf, cax=cax, ticks=map_levels)
cb.ax.set_yticklabels([f'{v:.3f}' for v in map_levels])
cb.ax.tick_params(length=0, pad=3, labelsize=23)
cb.outline.set_linewidth(1.2)
cb.outline.set_edgecolor('#222222')

# light curve
sns.scatterplot(data=curve, x='t', y='flux', ax=ax_lc, color='black', s=7, linewidth=0, legend=False)
ax_lc.set_xlim(0, 57.75)
ax_lc.set_ylim(-0.6, 0.8)
ax_lc.set_xticks([0, 10, 20, 30, 40, 50])
ax_lc.set_yticks([-0.6, -0.4, -0.2, 0.0, 0.2, 0.4, 0.6, 0.8])
ax_lc.tick_params(direction='in', length=3, width=0.8, top=True, right=True, labelsize=23, pad=4)
ax_lc.tick_params(axis='y', pad=3)
for s in ax_lc.spines.values():
    s.set_linewidth(1.9)
    s.set_color('#222222')
ax_lc.set_xlabel('Time (JD-2451602.74259)', fontsize=23.2, va='center')
ax_lc.xaxis.set_label_coords(0.5, -0.117)
ax_lc.set_ylabel(r'$\Delta F\,/\,\bar{F}\ (\%)$', fontsize=23, va='center')
ax_lc.yaxis.set_label_coords(-0.066, 0.5)

fig.savefig('out.png', dpi=100, facecolor='white')
